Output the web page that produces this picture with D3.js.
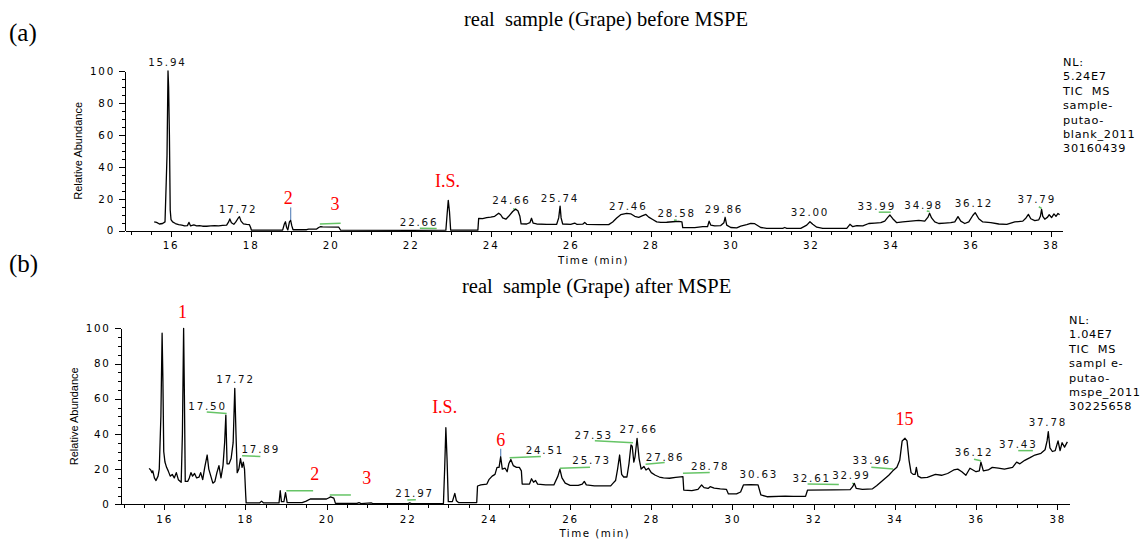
<!DOCTYPE html>
<html lang="en">
<head>
<meta charset="UTF-8">
<title>real sample (Grape) before / after MSPE</title>
<script src="https://cdn.jsdelivr.net/npm/d3@7"></script>
<style>
body{margin:0;background:#fff;}
.axis path,.axis line{fill:none;stroke:#000;shape-rendering:crispEdges;}
.axis text{font-family:"DejaVu Sans",sans-serif;font-size:10.3px;letter-spacing:1.8px;fill:#000;}
.trace{fill:none;stroke:#000;stroke-width:1.3;stroke-linejoin:round;}
.peak{font-family:"DejaVu Sans",sans-serif;font-size:10.3px;letter-spacing:1.8px;fill:#111;text-anchor:middle;}
.red{font-family:"Liberation Serif","Times New Roman",serif;font-size:18px;fill:#f00;text-anchor:middle;}
.title{font-family:"Liberation Serif","Times New Roman",serif;font-size:20.5px;fill:#000;white-space:pre;}
.tag{font-family:"Liberation Serif","Times New Roman",serif;font-size:25px;fill:#000;}
.info{font-family:"DejaVu Sans",sans-serif;font-size:11.3px;letter-spacing:0.7px;fill:#000;white-space:pre;}
.ylab{font-family:"Liberation Sans",Arial,sans-serif;font-size:11px;fill:#000;text-anchor:middle;}
.xlab{font-family:"DejaVu Sans",sans-serif;font-size:10.3px;letter-spacing:1.5px;fill:#000;text-anchor:middle;}
.green{stroke:#66c466;stroke-width:1.5;fill:none;}
.blue{stroke:#7094c4;stroke-width:1.3;fill:none;}
</style>
</head>
<body>
<script>
var width = 1142;
var height = 544;

// 坐标轴刻度
var xTicks = [16, 18, 20, 22, 24, 26, 28, 30, 32, 34, 36, 38];
var xMinorTicks = d3.range(15, 38.01, 0.5);
var yTicks = [0, 20, 40, 60, 80, 100];
var yMinorTicks = d3.range(0, 100.1, 5);

// (a) before MSPE : [time, relative abundance]
var traceA = [
  [15.59,5.6],[15.65,5.2],[15.72,4.2],[15.80,4.5],[15.86,5.5],[15.89,30],[15.91,47],[15.935,100],[15.95,90],[15.97,60],
  [15.99,13],[16.01,7],[16.05,5.5],[16.12,4.5],[16.2,3.8],[16.28,3.5],[16.35,3.0],[16.42,3.2],[16.46,5.2],[16.5,3.0],
  [16.58,3.6],[16.65,3.0],[16.72,3.2],[16.8,2.8],[16.9,2.8],[17.0,3.0],[17.1,3.2],[17.2,3.0],[17.3,3.3],[17.4,3.5],
  [17.45,5.5],[17.48,7.4],[17.52,5.0],[17.58,4.0],[17.63,5.5],[17.68,7.5],[17.72,8.8],[17.76,6.0],[17.82,4.3],[17.9,4.0],
  [17.97,3.8],[18.0,2.0],[18.02,0.3],[18.4,0.3],[18.8,0.4],[18.84,4],[18.87,5.6],[18.9,2],[18.93,0.5],[18.97,5.5],
  [19.0,6.5],[19.03,3],[19.06,0.6],[19.4,0.6],[19.45,1.0],[19.65,1.0],[19.7,2.0],[19.75,2.5],[19.8,2.4],[20.2,2.3],
  [20.25,0.3],[22.0,0.2],[22.88,0.3],[22.91,10],[22.94,19],[22.97,12],[23.0,0.3],[23.68,0.3],[23.7,7.7],[23.8,7.5],
  [23.9,8.2],[24.0,8.5],[24.1,9.0],[24.2,11.0],[24.25,10.0],[24.3,8.0],[24.38,7.2],[24.45,9.0],[24.55,12.0],[24.62,13.5],
  [24.68,12.5],[24.73,9.0],[24.76,4.3],[24.9,4.2],[24.98,5.0],[25.02,7.8],[25.06,4.8],[25.15,4.2],[25.4,4.0],[25.65,4.0],
  [25.7,8],[25.735,15.4],[25.76,8],[25.8,4.2],[26.0,4.0],[26.1,4.8],[26.15,4.0],[26.3,4.1],[26.35,5.2],[26.4,4.0],
  [26.7,3.8],[26.95,3.8],[27.05,5.5],[27.15,8.0],[27.25,10.0],[27.4,10.9],[27.5,10.6],[27.6,9.0],[27.7,8.4],[27.8,9.4],
  [27.88,10.2],[27.95,8.5],[28.05,7.0],[28.15,5.5],[28.25,5.2],[28.4,5.3],[28.55,5.6],[28.7,5.8],[28.78,5.5],[28.8,1.9],
  [29.1,1.9],[29.3,2.5],[29.42,2.5],[29.46,6.0],[29.5,3.5],[29.6,3.0],[29.75,3.2],[29.83,5.0],[29.86,8.4],[29.9,3.5],
  [30.0,2.0],[30.15,1.8],[30.25,2.8],[30.4,3.8],[30.5,4.6],[30.6,4.4],[30.75,2.0],[30.9,1.5],[31.3,1.5],[31.35,2.0],
  [31.4,1.5],[31.75,1.5],[31.9,3.5],[31.98,5.6],[32.05,4.0],[32.15,2.2],[32.3,1.4],[32.9,1.5],[32.98,4.0],[33.05,2.5],
  [33.15,3.2],[33.3,3.0],[33.45,4.5],[33.6,4.8],[33.75,5.0],[33.85,6.0],[33.93,8.5],[33.98,9.8],[34.05,7.5],[34.15,5.0],
  [34.3,5.5],[34.5,6.0],[34.7,6.5],[34.85,6.0],[34.93,8.5],[34.97,10.9],[35.02,8.0],[35.1,5.5],[35.2,4.5],[35.35,4.8],
  [35.5,5.0],[35.6,5.5],[35.68,8.8],[35.75,6.0],[35.85,4.5],[35.95,5.5],[36.05,9.5],[36.11,11.3],[36.2,7.5],[36.3,5.5],
  [36.5,5.0],[36.7,4.2],[36.9,4.0],[37.1,5.5],[37.3,6.0],[37.38,8.0],[37.44,10.2],[37.5,7.5],[37.6,6.3],[37.7,6.8],
  [37.74,9],[37.77,13.4],[37.8,9.0],[37.85,7.2],[37.92,8.5],[37.96,10.0],[38.02,8.2],[38.08,10.5],[38.13,9.0],[38.18,10.8],
  [38.22,10.0]
];

// (b) after MSPE : [time, relative abundance]
var traceB = [
  [15.63,20.4],[15.67,19.5],[15.7,18],[15.72,19],[15.76,15],[15.8,13.5],[15.85,16],[15.88,20],[15.92,50],[15.95,97.2],
  [15.97,70],[15.99,30],[16.02,24],[16.06,21],[16.1,19],[16.15,16],[16.2,17],[16.25,15],[16.3,18],[16.35,14],
  [16.42,12.5],[16.45,40],[16.48,100],[16.5,60],[16.52,13],[16.58,13],[16.62,15],[16.66,18],[16.7,16],[16.75,17.5],
  [16.8,15],[16.86,15.5],[16.9,18],[16.95,14],[17.0,21],[17.06,28],[17.1,20],[17.15,16],[17.2,12],[17.25,13],
  [17.3,18],[17.35,22],[17.4,15],[17.45,22],[17.49,35],[17.52,50.7],[17.55,23],[17.6,23],[17.65,26],[17.7,35],
  [17.74,65.9],[17.77,40],[17.8,18],[17.84,20],[17.88,26],[17.92,21],[17.95,24],[17.98,20],[18.01,5],[18.02,0.8],
  [18.35,0.8],[18.4,1.8],[18.45,0.8],[18.83,0.8],[18.86,7.7],[18.89,1.5],[18.95,1.5],[18.99,6.6],[19.03,1],[19.4,1.0],
  [19.5,1.8],[19.6,3.0],[20.0,3.0],[20.05,3.6],[20.1,4.2],[20.18,3.5],[20.22,0.5],[20.75,0.5],[20.8,1.0],[20.85,0.4],
  [21.1,0.8],[21.15,0.3],[22.0,0.3],[22.05,0.8],[22.1,0.3],[22.88,0.5],[22.91,20],[22.94,43.5],[22.97,25],[23.0,1.5],
  [23.1,1.5],[23.16,6.2],[23.2,2],[23.25,1],[23.7,1],[23.72,10.4],[23.8,11],[23.95,11.5],[24.0,14],[24.08,16],
  [24.15,17],[24.2,21],[24.25,21],[24.29,27],[24.33,20],[24.4,20.5],[24.45,18.5],[24.49,23],[24.54,25.5],[24.6,22],
  [24.68,21],[24.75,21],[24.8,19],[24.82,11.5],[25.0,11.5],[25.05,14.5],[25.1,12.5],[25.15,13.5],[25.2,11.5],[25.4,11.0],
  [25.6,11.0],[25.7,16],[25.75,19.9],[25.8,15],[25.88,12],[26.0,10.8],[26.2,10.8],[26.3,11.5],[26.35,13],[26.4,11],
  [26.6,10.5],[27.0,10.5],[27.06,12],[27.12,13.5],[27.17,20],[27.22,28],[27.27,17],[27.32,15.5],[27.4,15.5],[27.45,23],
  [27.5,33.7],[27.53,33],[27.57,24],[27.6,27],[27.65,37.5],[27.7,26],[27.75,20],[27.82,21.5],[27.87,19.5],[27.93,20.5],
  [28.0,18],[28.1,16.5],[28.2,15.5],[28.3,15],[28.45,14.8],[28.6,15.3],[28.78,15.7],[28.8,8.1],[29.0,7.8],[29.15,8.5],
  [29.24,11],[29.3,9.5],[29.4,9],[29.45,10],[29.55,9.2],[29.7,8.8],[29.85,8.5],[29.9,5.9],[30.1,5.9],[30.2,7],
  [30.27,11],[30.45,11.2],[30.63,11],[30.7,5.3],[30.85,4.3],[31.3,4.6],[31.5,4.5],[31.8,4.5],[31.85,8.1],[32.5,8.2],
  [32.9,8.3],[32.96,10],[33.0,11.9],[33.05,9],[33.2,8.5],[33.45,8.8],[33.55,10.5],[33.65,12.5],[33.75,14.5],[33.85,16.5],
  [33.95,19],[34.05,21],[34.12,25],[34.18,36],[34.25,37.5],[34.3,36],[34.35,25],[34.4,18],[34.45,17],[34.5,17],
  [34.53,21],[34.57,16],[34.65,15],[34.8,15.3],[35.0,17],[35.15,16.5],[35.3,17.5],[35.45,19.5],[35.55,20],[35.65,18.5],
  [35.75,16.5],[35.85,20.5],[36.0,18.5],[36.08,19],[36.12,24],[36.18,19],[36.3,19.5],[36.4,21],[36.55,20.5],[36.7,20],
  [36.9,21],[37.0,24],[37.08,23],[37.2,25],[37.33,26.5],[37.45,28],[37.6,29],[37.7,31],[37.75,36],[37.78,41.3],
  [37.82,32],[37.88,30],[37.95,30.5],[38.02,36],[38.07,30.5],[38.12,35],[38.18,32.5],[38.25,35.5]
];

// 峰标注 [text, time, abundance]
var peaksA = [
  ["15.94",15.92,103],["17.72",17.69,11],["22.66",22.21,3.1],["24.66",24.52,16.7],["25.74",25.73,18.1],
  ["27.46",27.44,12.9],["28.58",28.65,8.8],["29.86",29.83,10.9],["32.00",31.98,9.2],["33.99",33.65,12.9],
  ["34.98",34.82,13.4],["36.12",36.08,15],["37.79",37.65,17.1]
];
var peaksB = [
  ["17.72",17.76,68.8],["17.50",17.07,53.6],["17.89",18.38,29],["21.97",22.17,4],["24.51",25.38,28.6],
  ["25.73",26.53,22.7],["27.53",26.58,36.9],["27.66",27.69,40.3],["27.86",28.34,24.6],["28.78",29.45,19.5],
  ["30.63",30.65,14.8],["32.61",31.95,12.8],["32.99",32.93,14.2],["33.96",33.43,22.7],["36.12",35.95,27.4],
  ["37.43",37.04,31.8],["37.78",37.77,44.5]
];

// 化合物编号 [text, time, abundance]
var compA = [["2",18.94,16.7],["3",20.11,12.9],["I.S.",22.92,27.5]];
var compB = [["1",16.45,106],["2",19.71,13.8],["3",20.99,11.4],["I.S.",22.91,51.7],["6",24.29,33.3],["15",34.24,45]];

// 绿色积分标记 [t1, v1, t2, v2]
var greenA = [[19.73,4.2,20.25,4.7],[22.23,1.6,22.65,1.3],[24.56,13.8,24.65,13.2],[28.58,6.6,28.65,6.6],
  [33.7,11.6,34.0,11.6],[34.9,12.4,34.97,12],[37.7,15,37.77,14]];
var greenB = [[17.05,52.4,17.54,51.6],[17.92,27.6,18.37,27.2],[19.01,7.7,19.67,7.7],[20.08,5.3,20.6,5.3],
  [21.99,2.4,22.2,2.6],[24.51,26.5,25.28,27.2],[25.75,20.5,26.49,21],[26.61,36.1,27.55,35],[27.86,22.7,28.33,23.7],
  [28.78,17.6,29.44,18],[31.85,11.5,32.62,11.2],[32.95,12,33.0,11.5],[33.42,21,33.96,20],[35.95,25.6,36.12,24.8],
  [37.04,30.5,37.4,30.5]];

// 蓝色标记 [time, v1, v2]
var blueA = [[19.0, 6.5, 14.6]];
var blueB = [[24.29, 27, 31.5]];

var infoA = ["NL:", "5.24E7", "TIC  MS", "sample-", "putao-", "blank_2011", "30160439"];
var infoB = ["NL:", "1.04E7", "TIC  MS", "sampl e-", "putao-", "mspe_2011", "30225658"];

//画布
var svg = d3.select("body").append("svg")
    .attr("width", width)
    .attr("height", height);

function drawPanel(p) {
  var x = d3.scaleLinear().domain(p.xDomain).range([p.left, p.right]);
  var y = d3.scaleLinear().domain([0, 100]).range([p.bottom, p.top]);
  var g = svg.append("g");

  // x 轴
  g.append("g").attr("class", "axis")
    .attr("transform", "translate(0," + p.bottom + ")")
    .call(d3.axisBottom(x).tickValues(xMinorTicks).tickSize(4).tickSizeOuter(0).tickFormat(""));
  g.append("g").attr("class", "axis")
    .attr("transform", "translate(0," + p.bottom + ")")
    .call(d3.axisBottom(x).tickValues(xTicks).tickSize(6).tickPadding(5).tickSizeOuter(0).tickFormat(d3.format("d")));

  // y 轴
  g.append("g").attr("class", "axis")
    .attr("transform", "translate(" + p.left + ",0)")
    .call(d3.axisLeft(y).tickValues(yMinorTicks).tickSize(3).tickSizeOuter(0).tickFormat(""));
  g.append("g").attr("class", "axis")
    .attr("transform", "translate(" + p.left + ",0)")
    .call(d3.axisLeft(y).tickValues(yTicks).tickSize(6).tickPadding(4).tickSizeOuter(0));

  g.append("text").attr("class", "ylab")
    .attr("transform", "translate(" + (p.left - 43) + "," + ((p.top + p.bottom) / 2) + ") rotate(-90)")
    .text("Relative Abundance");
  g.append("text").attr("class", "xlab")
    .attr("x", (p.left + p.right) / 2).attr("y", p.bottom + 33)
    .text("Time (min)");

  // 标记线
  g.selectAll(".green").data(p.greens).enter().append("line").attr("class", "green")
    .attr("x1", function(d) { return x(d[0]); }).attr("y1", function(d) { return y(d[1]); })
    .attr("x2", function(d) { return x(d[2]); }).attr("y2", function(d) { return y(d[3]); });
  g.selectAll(".blue").data(p.blues).enter().append("line").attr("class", "blue")
    .attr("x1", function(d) { return x(d[0]); }).attr("y1", function(d) { return y(d[1]); })
    .attr("x2", function(d) { return x(d[0]); }).attr("y2", function(d) { return y(d[2]); });

  // 色谱曲线
  var line = d3.line()
    .x(function(d) { return x(d[0]); })
    .y(function(d) { return y(d[1]); });
  g.append("path").attr("class", "trace").attr("d", line(p.trace));

  g.selectAll(".peak").data(p.peaks).enter().append("text").attr("class", "peak")
    .attr("x", function(d) { return x(d[1]); }).attr("y", function(d) { return y(d[2]); })
    .text(function(d) { return d[0]; });
  g.selectAll(".red").data(p.comps).enter().append("text").attr("class", "red")
    .attr("x", function(d) { return x(d[1]); }).attr("y", function(d) { return y(d[2]); })
    .text(function(d) { return d[0]; });

  // 标题
  svg.append("text").attr("class", "tag").attr("x", 9).attr("y", p.tagY).text(p.tag);
  svg.append("text").attr("class", "title").attr("x", p.titleX).attr("y", p.titleY).text(p.title);

  var info = svg.append("text").attr("class", "info");
  info.selectAll("tspan").data(p.info).enter().append("tspan")
    .attr("x", p.infoX)
    .attr("y", function(d, i) { return p.infoY + i * 14.4; })
    .text(function(d) { return d; });
}

drawPanel({
  trace: traceA, peaks: peaksA, comps: compA, greens: greenA, blues: blueA, info: infoA,
  xDomain: [14.86, 38.28], left: 125, right: 1062, top: 71, bottom: 230.7,
  tag: "(a)", tagY: 41, title: "real  sample (Grape) before MSPE", titleX: 464, titleY: 26,
  infoX: 1063, infoY: 66
});

drawPanel({
  trace: traceB, peaks: peaksB, comps: compB, greens: greenB, blues: blueB, info: infoB,
  xDomain: [14.93, 38.29], left: 120.7, right: 1069, top: 328.3, bottom: 504.3,
  tag: "(b)", tagY: 272, title: "real  sample (Grape) after MSPE", titleX: 462, titleY: 293,
  infoX: 1069, infoY: 324
});
</script>
</body>
</html>
